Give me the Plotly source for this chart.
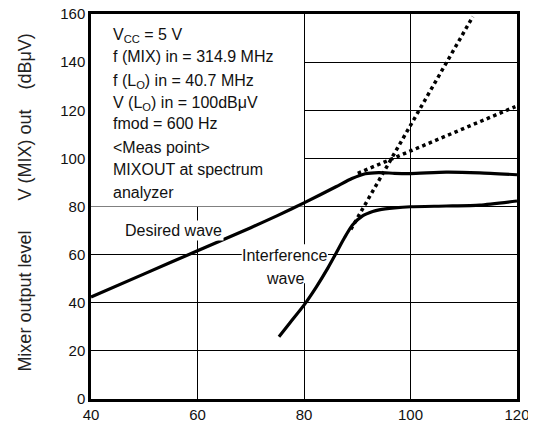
import plotly.graph_objects as go

# ---- data ----
desired_x = [40, 50, 60, 70, 75, 80, 86, 89, 91.5, 94, 97, 100, 106.7, 113, 120]
desired_y = [42.4, 52, 61.6, 71.2, 76.2, 81.5, 88.2, 91.6, 93.6, 94.1, 93.8, 93.7, 94.3, 94.0, 93.2]

interf_x = [75.3, 77.3, 80, 82.3, 84.5, 86, 87.6, 89.1, 91, 92.9, 94.1, 97, 100, 106.7, 113, 120]
interf_y = [25.9, 31.5, 39.0, 46.5, 54.5, 60.5, 67.0, 72.3, 76.1, 77.9, 78.6, 79.4, 79.9, 80.2, 80.6, 82.3]

steep_x = [88.8, 111.7]
steep_y = [70.5, 158.9]

shallow_x = [90.1, 119.7]
shallow_y = [93.8, 121.5]

x_ticks = [40, 60, 80, 100, 120]
y_ticks = [0, 20, 40, 60, 80, 100, 120, 140, 160]

cond_lines = [
    "V<sub>CC</sub> = 5 V",
    "f (MIX) in = 314.9 MHz",
    "f (L<sub>O</sub>) in = 40.7 MHz",
    "V (L<sub>O</sub>) in = 100dBμV",
    "fmod = 600 Hz",
    "&lt;Meas point&gt;",
    "MIXOUT at spectrum",
    "analyzer",
]
cond_y = [151.0, 142.3, 132.0, 123.0, 114.3, 104.7, 95.2, 86.0]

FONT = "Arial, Liberation Sans, Helvetica, sans-serif"
TXT = "#111111"

fig = go.Figure()

for xs, ys, dash, w in [
    (desired_x, desired_y, "solid", 3.2),
    (interf_x, interf_y, "solid", 3.2),
    (steep_x, steep_y, "dot", 3.5),
    (shallow_x, shallow_y, "dot", 3.5),
]:
    fig.add_trace(go.Scatter(
        x=xs, y=ys, mode="lines",
        line=dict(color="black", width=w, dash=dash,
                  shape="spline" if dash == "solid" else "linear", smoothing=0.6),
        showlegend=False, hoverinfo="skip", cliponaxis=True,
    ))

# white masks over the grid (under traces)
fig.add_shape(type="rect", x0=40, x1=80, y0=80, y1=160, layer="between",
              fillcolor="white", line=dict(width=0))
fig.add_shape(type="rect", x0=68.3, x1=84.5, y0=48.1, y1=64.3, layer="between",
              fillcolor="white", line=dict(width=0))

for t, y in zip(cond_lines, cond_y):
    fig.add_annotation(x=43.7, y=y, text=t, showarrow=False, xanchor="left",
                       yanchor="middle", font=dict(family=FONT, size=16, color=TXT))

fig.add_annotation(x=55.4, y=70.2, text="Desired wave", showarrow=False,
                   bgcolor="white", borderpad=1,
                   font=dict(family=FONT, size=16, color=TXT))
fig.add_annotation(x=76.4, y=59.6, text="Interference", showarrow=False,
                   font=dict(family=FONT, size=16, color=TXT))
fig.add_annotation(x=76.4, y=50.1, text="wave", showarrow=False,
                   font=dict(family=FONT, size=16, color=TXT))

fig.add_annotation(xref="paper", yref="paper", x=-0.155, y=0.51,
                   text="Mixer output level" + "\u00a0" * 6 + "V (MIX) out" + "\u00a0" * 4 + "(dBμV)",
                   textangle=-90, showarrow=False, xanchor="center", yanchor="middle",
                   font=dict(family=FONT, size=18, color="#222222"))

axis_common = dict(
    showgrid=True, gridcolor="black", gridwidth=1,
    showline=True, linecolor="black", linewidth=2.5, mirror=True,
    zeroline=False, ticks="", automargin=False, ticklabeloverflow="allow",
    tickfont=dict(family=FONT, size=15, color=TXT),
)
fig.update_xaxes(range=[40, 120], tickvals=x_ticks, ticktext=[str(v) for v in x_ticks],
                 **axis_common)
fig.update_yaxes(range=[0, 160], tickvals=y_ticks, ticktext=[str(v) for v in y_ticks],
                 **axis_common)

# the page body adds an 8px offset, so the margins are shifted by 8px
fig.update_layout(
    width=536, height=423,
    margin=dict(l=83, r=27, t=6, b=32, autoexpand=False),
    paper_bgcolor="white", plot_bgcolor="white",
    font=dict(family=FONT, color=TXT),
)

fig.write_html("out.html")
